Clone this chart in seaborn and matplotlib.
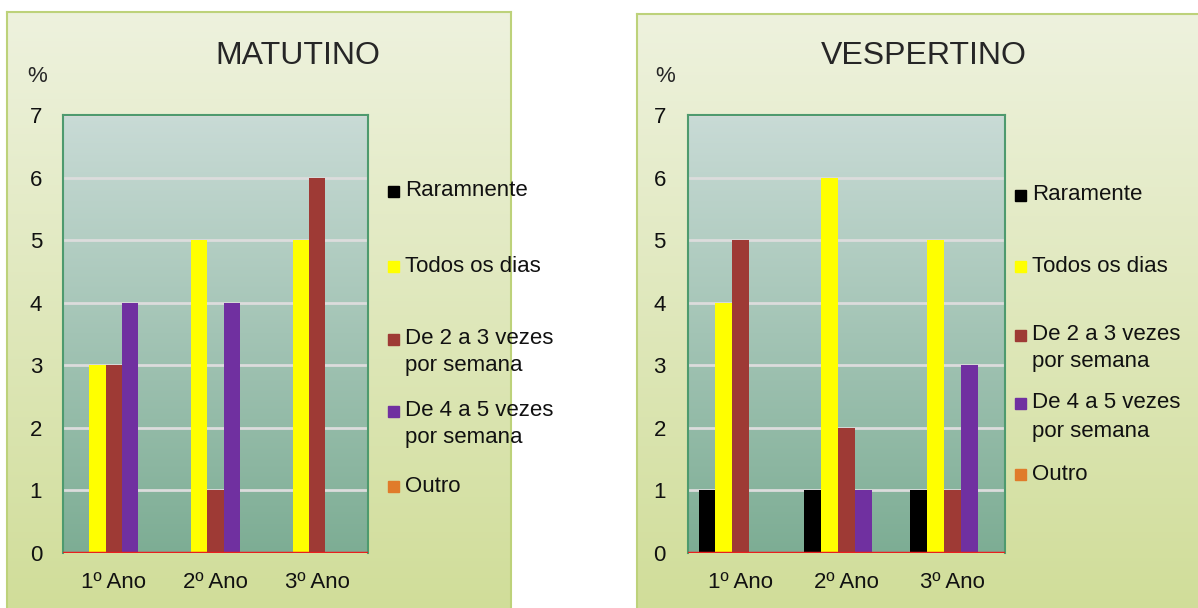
import numpy as np
import pandas as pd
import matplotlib
matplotlib.use("Agg")
import matplotlib.pyplot as plt
from matplotlib.patches import Rectangle
import seaborn as sns

# data
anos = ["1º Ano", "2º Ano", "3º Ano"]
series_mat = ["Raramnente", "Todos os dias", "De 2 a 3 vezes\npor semana",
              "De 4 a 5 vezes\npor semana", "Outro"]
series_vesp = ["Raramente", "Todos os dias", "De 2 a 3 vezes\npor semana",
               "De 4 a 5 vezes\npor semana", "Outro"]
mat_raramente = [0, 0, 0]
mat_todos = [3, 5, 5]
mat_2a3 = [3, 1, 6]
mat_4a5 = [4, 4, 0]
mat_outro = [0, 0, 0]
vesp_raramente = [1, 1, 1]
vesp_todos = [4, 6, 5]
vesp_2a3 = [5, 2, 1]
vesp_4a5 = [0, 1, 3]
vesp_outro = [0, 0, 0]
cores = ["#000000", "#FFFF00", "#9E3A35", "#7030A0", "#E07B2A"]

W, H = 1198, 608
sns.set_style("white")
plt.rcParams["font.family"] = ["Liberation Sans", "DejaVu Sans"]

fig = plt.figure(figsize=(W / 100, H / 100), dpi=100)
fig.patch.set_facecolor("white")


def long_df(names, cols):
    rows = []
    for name, vals in zip(names, cols):
        for a, v in zip(anos, vals):
            rows.append({"ano": a, "freq": name, "valor": v})
    return pd.DataFrame(rows)


def vgrad(top, bottom, n=256):
    top = np.array(matplotlib.colors.to_rgb(top))
    bottom = np.array(matplotlib.colors.to_rgb(bottom))
    t = np.linspace(0, 1, n)[:, None]
    return (top * (1 - t) + bottom * t)[:, None, :]


def px(x, y):
    return x / W, 1 - y / H


def panel(box, axbox, names, cols, title, title_x, ticklab_pad, pct_x, leg_x, leg_y):
    # outer chart area
    bx0, bx1, by0 = box
    bg = fig.add_axes([bx0 / W, -0.02, (bx1 - bx0) / W, 1 - by0 / H + 0.02], zorder=-2)
    bg.imshow(vgrad("#EEF2DE", "#D0DD98"), aspect="auto", extent=(0, 1, 0, 1))
    bg.set_xticks([]); bg.set_yticks([])
    for s in bg.spines.values():
        s.set_color("#BDD27A"); s.set_linewidth(1.5)

    x0, x1, y0, y1 = axbox
    ax = fig.add_axes([x0 / W, 1 - y1 / H, (x1 - x0) / W, (y1 - y0) / H])
    df = long_df(names, cols)
    sns.barplot(data=df, x="ano", y="valor", hue="freq", hue_order=names,
                palette=cores, width=0.8, saturation=1, linewidth=0,
                legend=False, ax=ax, zorder=3)
    ax.imshow(vgrad("#C9DBD6", "#7DAD94"), aspect="auto",
              extent=(-0.5, 2.5, 0, 7), zorder=0)
    ax.set_xlim(-0.5, 2.5)
    ax.set_ylim(0, 7)
    ax.set_yticks(range(0, 8))
    ax.yaxis.grid(True, color="#DCDCDC", linewidth=2, zorder=1)
    ax.set_axisbelow(True)
    ax.axhline(0, color="#E8201E", linewidth=2.5, zorder=4)
    for s in ax.spines.values():
        s.set_color("#4E9A6E"); s.set_linewidth(1.5)
    ax.spines["bottom"].set_visible(False)
    ax.tick_params(axis="both", length=0, labelsize=16, colors="#111111")
    ax.tick_params(axis="y", pad=ticklab_pad)
    ax.tick_params(axis="x", pad=14)
    ax.set_xlabel("")
    ax.set_ylabel("")

    fig.text(*px(title_x, 56), title, ha="center", va="center", fontsize=23)
    fig.text(*px(pct_x, 76), "%", ha="center", va="center", fontsize=16)

    # legend: square markers aligned with the first line of each entry
    for name, c, ys in zip(names, cores, leg_y):
        fig.patches.append(Rectangle(px(leg_x, ys[0] + 5.5), 11 / W, 11 / H,
                                     transform=fig.transFigure, color=c))
        for k, line in enumerate(name.split("\n")):
            fig.text(*px(leg_x + 17, ys[k]), line, ha="left", va="center",
                     fontsize=16, color="#111111")
    return ax


panel((7, 511, 12), (63, 368, 115, 553), series_mat,
      [mat_raramente, mat_todos, mat_2a3, mat_4a5, mat_outro],
      "MATUTINO", 298, 15, 37, 388,
      [(191,), (266,), (339, 365), (411, 437), (486,)])
panel((637, 1215, 14), (688, 1005, 115, 553), series_vesp,
      [vesp_raramente, vesp_todos, vesp_2a3, vesp_4a5, vesp_outro],
      "VESPERTINO", 924, 16, 665, 1015,
      [(195,), (266,), (335, 362), (403, 432), (474,)])

fig.savefig("out.png", dpi=100, facecolor=fig.get_facecolor())
